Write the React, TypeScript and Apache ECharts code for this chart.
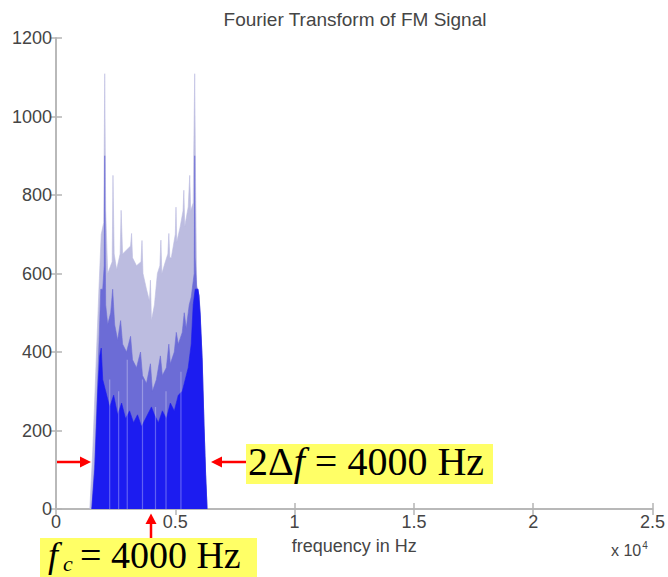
import React, { useEffect, useRef } from "react";
import * as echarts from "echarts";

// Frequency axis (Hz) and tick setup
const xTicksHz = [0, 5000, 10000, 15000, 20000, 25000];
const yTicks = [0, 200, 400, 600, 800, 1000, 1200];

// Light (sparse) layer of the |FFT| spectrum: spike tops
const lightHz = [1417, 1542, 1667, 1792, 1896, 2000, 2042, 2083, 2167, 2354, 2388, 2438, 2542, 2688, 2729, 2792, 2958, 3125, 3167, 3208, 3375, 3563, 3604, 3646, 3792, 3917, 3958, 4000, 4125, 4250, 4354, 4396, 4438, 4583, 4688, 4729, 4771, 4833, 5000, 5029, 5063, 5208, 5325, 5358, 5396, 5542, 5604, 5646, 5750, 5813, 5854, 5896, 6000, 6125, 6208, 6271, 6333];
const lightVal = [0, 150, 350, 550, 700, 730, 1109, 760, 600, 630, 850, 650, 610, 650, 761, 650, 660, 670, 702, 640, 620, 630, 684, 600, 560, 530, 583, 480, 520, 600, 620, 685, 600, 630, 650, 702, 640, 640, 700, 769, 680, 720, 760, 812, 720, 770, 850, 760, 780, 1109, 800, 570, 540, 390, 209, 90, 0];

// Medium-density layer
const midHz = [1500, 1625, 1750, 1833, 1875, 1958, 2021, 2042, 2067, 2083, 2167, 2292, 2375, 2458, 2583, 2708, 2792, 2958, 3125, 3208, 3375, 3542, 3625, 3792, 3958, 4042, 4208, 4375, 4458, 4625, 4729, 4792, 4958, 5042, 5125, 5292, 5375, 5458, 5583, 5667, 5792, 5813, 5833, 5896, 6000, 6125, 6208, 6271, 6333];
const midVal = [0, 120, 330, 480, 560, 560, 620, 900, 640, 520, 470, 500, 560, 470, 430, 480, 420, 400, 440, 380, 360, 400, 340, 320, 370, 300, 330, 390, 340, 360, 420, 370, 400, 450, 420, 450, 500, 460, 520, 540, 600, 900, 640, 565, 545, 385, 205, 88, 0];

// Dense (solid) layer
const denseHz = [1500, 1625, 1750, 1833, 1896, 1958, 2083, 2250, 2417, 2583, 2750, 2917, 3083, 3250, 3417, 3583, 3750, 3917, 4000, 4125, 4292, 4458, 4625, 4792, 4958, 5125, 5292, 5417, 5542, 5667, 5750, 5833, 5958, 6042, 6125, 6208, 6271, 6333];
const denseVal = [0, 100, 300, 390, 410, 330, 300, 260, 290, 240, 270, 230, 250, 220, 240, 210, 230, 250, 260, 240, 220, 250, 230, 270, 250, 290, 300, 330, 360, 420, 520, 560, 560, 500, 380, 205, 88, 0];

// Thin light gaps between spectral lines in the solid part
const gapHz = [2250, 2625, 2986, 3625, 4170, 4611, 5236];
const gapVal = [330, 300, 380, 330, 260, 300, 350];

const zip = (xs: number[], ys: number[]) => xs.map((x, i) => [x, ys[i]]);

const AXIS_COLOR = "#b4b4b4";
const TEXT_COLOR = "#454545";
const SANS = "Liberation Sans, Arial, sans-serif";
const SERIF = "Liberation Serif, Times New Roman, serif";

export default function App() {
  const ref = useRef<HTMLDivElement>(null);

  useEffect(() => {
    document.body.style.margin = "0";
    if (!ref.current) return;
    const chart = echarts.init(ref.current, undefined, { renderer: "svg" });

    const commonX = {
      type: "value" as const,
      min: xTicksHz[0],
      max: xTicksHz[xTicksHz.length - 1],
      interval: 5000,
      splitLine: { show: false },
      axisLine: { show: true, lineStyle: { color: AXIS_COLOR, width: 1.5 } },
      axisTick: { show: true, inside: true, length: 6, lineStyle: { color: AXIS_COLOR, width: 1.5 } },
    };
    const commonY = {
      type: "value" as const,
      min: yTicks[0],
      max: yTicks[yTicks.length - 1],
      interval: 200,
      splitLine: { show: false },
      axisLine: { show: true, lineStyle: { color: AXIS_COLOR, width: 1.5 } },
      axisTick: { show: true, inside: true, length: 6, lineStyle: { color: AXIS_COLOR, width: 1.5 } },
    };

    const areaSeries = (data: number[][], color: string, z: number) => ({
      type: "line",
      data,
      symbol: "none",
      smooth: false,
      silent: true,
      z,
      lineStyle: { width: 0.6, color },
      areaStyle: { color, opacity: 1 },
    });

    chart.setOption({
      animation: false,
      backgroundColor: "#ffffff",
      grid: { left: 56, top: 38, right: 11, bottom: 68, containLabel: false },
      xAxis: [
        {
          ...commonX,
          position: "bottom",
          name: "frequency in Hz",
          nameLocation: "middle",
          nameGap: 28,
          nameTextStyle: { color: TEXT_COLOR, fontSize: 18, fontFamily: SANS },
          axisLabel: {
            color: TEXT_COLOR,
            fontSize: 18,
            fontFamily: SANS,
            margin: 4,
            formatter: (v: number) => String(v / 10000),
          },
        },
        { ...commonX, position: "top", axisLabel: { show: false } },
      ],
      yAxis: [
        {
          ...commonY,
          position: "left",
          axisLabel: { color: TEXT_COLOR, fontSize: 18, fontFamily: SANS, margin: 4, formatter: (v: number) => String(v) },
        },
        { ...commonY, position: "right", axisLabel: { show: false } },
      ],
      series: [
        areaSeries(zip(lightHz, lightVal), "#bcbce0", 2),
        areaSeries(zip(midHz, midVal), "#6c6cd6", 3),
        areaSeries(zip(denseHz, denseVal), "#1c1cf0", 4),
        {
          type: "bar",
          data: zip(gapHz, gapVal),
          barWidth: 1.2,
          silent: true,
          z: 5,
          itemStyle: { color: "rgba(255,255,255,0.3)" },
        },
      ],
      graphic: [
        {
          type: "text",
          x: 355,
          y: 19,
          z: 10,
          style: {
            text: "Fourier Transform of FM Signal",
            fill: TEXT_COLOR,
            font: `19px ${SANS}`,
            align: "center",
            verticalAlign: "middle",
          },
        },
        {
          type: "text",
          x: 611,
          y: 550,
          z: 10,
          style: {
            text: "x 10{s|4}",
            fill: TEXT_COLOR,
            font: `16px ${SANS}`,
            align: "left",
            verticalAlign: "middle",
            rich: { s: { fontSize: 10, fontFamily: SANS, fill: TEXT_COLOR, verticalAlign: "top", padding: [0, 0, 10, 1] } },
          },
        },
        // yellow annotation boxes
        { type: "rect", z: 20, shape: { x: 246, y: 444, width: 247, height: 40 }, style: { fill: "#ffff66" } },
        { type: "rect", z: 20, shape: { x: 40, y: 538, width: 217, height: 39 }, style: { fill: "#ffff66" } },
        {
          type: "text",
          x: 248,
          y: 461,
          z: 21,
          style: {
            text: "2Δ{i|f} = 4000 Hz",
            fill: "#000",
            font: `40px ${SERIF}`,
            align: "left",
            verticalAlign: "middle",
            rich: { i: { fontStyle: "italic", fontSize: 40, fontFamily: SERIF, fill: "#000" } },
          },
        },
        {
          type: "text",
          x: 48,
          y: 555,
          z: 21,
          style: { text: "f", fill: "#000", font: `italic 36px ${SERIF}`, align: "left", verticalAlign: "middle" },
        },
        {
          type: "text",
          x: 63,
          y: 563,
          z: 21,
          style: { text: "c", fill: "#000", font: `italic 22px ${SERIF}`, align: "left", verticalAlign: "middle" },
        },
        {
          type: "text",
          x: 80,
          y: 555,
          z: 21,
          style: { text: "= 4000 Hz", fill: "#000", font: `38px ${SERIF}`, align: "left", verticalAlign: "middle" },
        },
        // red arrows
        { type: "line", z: 22, shape: { x1: 57, y1: 462, x2: 82, y2: 462 }, style: { stroke: "#ff0000", lineWidth: 2.5 } },
        { type: "polygon", z: 22, shape: { points: [[80, 456.5], [91, 462], [80, 467.5]] }, style: { fill: "#ff0000" } },
        { type: "line", z: 22, shape: { x1: 220, y1: 462, x2: 246, y2: 462 }, style: { stroke: "#ff0000", lineWidth: 2.5 } },
        { type: "polygon", z: 22, shape: { points: [[211, 462], [222, 456.5], [222, 467.5]] }, style: { fill: "#ff0000" } },
        { type: "line", z: 22, shape: { x1: 151, y1: 522, x2: 151, y2: 538 }, style: { stroke: "#ff0000", lineWidth: 2.5 } },
        { type: "polygon", z: 22, shape: { points: [[151, 513.5], [145.5, 524], [156.5, 524]] }, style: { fill: "#ff0000" } },
      ],
    });

    return () => chart.dispose();
  }, []);

  return <div ref={ref} style={{ width: 668, height: 577 }} />;
}
